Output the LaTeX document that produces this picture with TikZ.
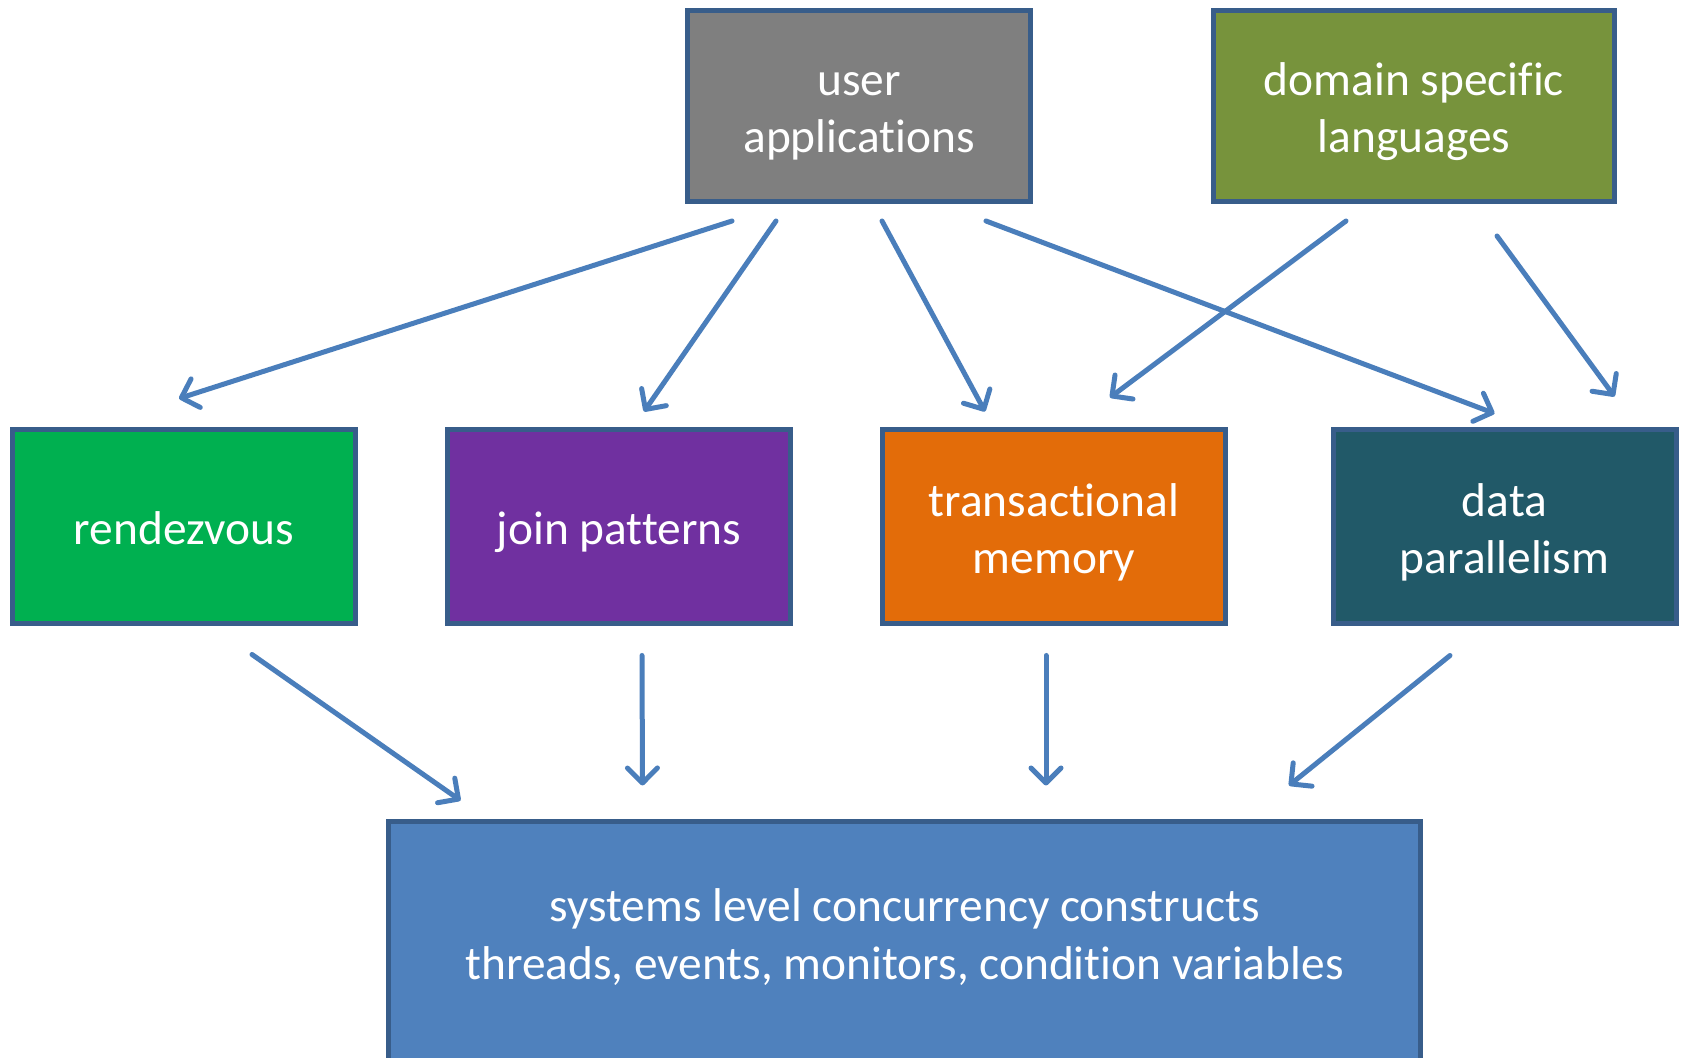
\documentclass[tikz,border=0pt]{standalone}
\usepackage{fontspec}
\setmainfont{Carlito}[Ligatures={NoCommon}, RawFeature={-liga;-clig;-dlig}]
\usetikzlibrary{arrows.meta,calc}

\definecolor{edgeblue}{HTML}{385D8A}
\definecolor{arrowblue}{HTML}{4A7EBB}
\definecolor{userfill}{HTML}{7F7F7F}
\definecolor{dslfill}{HTML}{77933C}
\definecolor{rendfill}{HTML}{00B050}
\definecolor{joinfill}{HTML}{7030A0}
\definecolor{tmfill}{HTML}{E36C09}
\definecolor{dpfill}{HTML}{215968}
\definecolor{sysfill}{HTML}{4F81BD}

% line strut so every text line is centred on the same box
\newcommand\lnstrut{\rule[-4pt]{0pt}{26pt}}
% keeps two letters apart (no ligature)
\newcommand\nolig{\kern0pt{}}

\tikzset{
  box/.style={draw=edgeblue, line width=2.5pt, rectangle, text=white,
    align=center, font=\fontsize{23.7pt}{28.5pt}\selectfont,
    inner sep=0pt, outer sep=1.25pt},
  topbox/.style={box, minimum width=171.5pt, minimum height=95.5pt},
  midbox/.style={box, minimum width=171.5pt, minimum height=97pt},
  link/.style={draw=arrowblue, line width=2.5pt, line cap=round,
    -{Straight Barb[length=7.5pt,width=15pt,round]}}
}

\begin{document}
\begin{tikzpicture}[x=0.5pt,y=-0.5pt]
  \clip (0,0) rectangle (1683,1058);
  \fill[white] (0,0) rectangle (1683,1058);

  % upper layer
  \node[topbox, fill=userfill] (ua) at (859,106) {\lnstrut user\\\lnstrut applications};
  \node[topbox, fill=dslfill, minimum width=200.5pt] (dsl) at (1414,106)
    {\lnstrut domain speci\nolig fic\\\lnstrut languages};

  % middle layer
  \node[midbox, fill=rendfill] (rend) at (184,527) {\lnstrut rendezvous};
  \node[midbox, fill=joinfill] (join) at (619,527) {\lnstrut join patterns};
  \node[midbox, fill=tmfill]   (tm)   at (1054,527) {\lnstrut transact\nolig ional\\\lnstrut memory};
  \node[midbox, fill=dpfill]   (dp)   at (1504.5,527) {\lnstrut data\\\lnstrut parallelism};

  % bottom layer
  \node[box, fill=sysfill, minimum width=516pt, minimum height=129pt] (sys) at (904.5,951) {};
  \node[text=white, align=center, inner sep=0pt, font=\fontsize{23.7pt}{29pt}\selectfont] (syslabel) at (904.5,932)
    {\lnstrut systems level concurrency constructs\\\lnstrut threads, events, monitors, condit\nolig ion variables};

  % connectors from the upper layer
  \draw[link] ($(ua.south)+(-127,17)$) -- ($(rend.north)+(-5,-29)$);
  \draw[link] ($(ua.south)+(-83,17)$)  -- ($(join.north)+(25,-16)$);
  \draw[link] ($(ua.south)+(23,17)$)   -- ($(tm.north)+(-69,-16)$);
  \draw[link] ($(ua.south)+(127,17)$)  -- ($(dp.north)+(-10,-14)$);
  \draw[link] ($(dsl.south)+(-68,17)$) -- ($(tm.north)+(56,-30)$);
  \draw[link] ($(dsl.south)+(83,32)$)  -- ($(dp.north)+(110,-31)$);

  % connectors to the systems layer
  \draw[link] ($(rend.south)+(68,28)$)  -- ($(sys.north)+(-444,-19)$);
  \draw[link] ($(join.south)+(23,29)$)  -- ($(sys.north)+(-262,-34)$);
  \draw[link] ($(tm.south)+(-8,29)$)    -- ($(sys.north)+(141.5,-34)$);
  \draw[link] ($(dp.south)+(-54.5,29)$) -- ($(sys.north)+(384.5,-34)$);
\end{tikzpicture}
\end{document}
